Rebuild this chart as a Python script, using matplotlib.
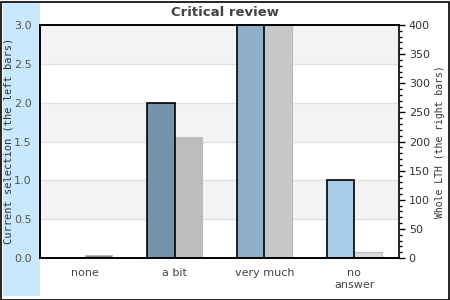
"""Critical review: current selection vs whole LTH, twin-axis bar chart."""

import matplotlib

matplotlib.use("Agg")
import matplotlib.pyplot as plt
import numpy as np
from matplotlib.patches import Rectangle
from matplotlib.ticker import MultipleLocator

categories = ["none", "a bit", "very much", "no\nanswer"]
current_selection = [0.0, 2.0, 3.0, 1.0]
whole_lth = [6, 208, 400, 10]

left_colors = ["#6f8faa", "#7393ae", "#8fb0cb", "#a9cce8"]
right_colors = ["#888888", "#bdbdbd", "#c8c8c8", "#d9d9d9"]
right_edges = ["#bbbbbb", "#bdbdbd", "#bbbbbb", "#bdbdbd"]

LEFT_MAX, RIGHT_MAX = 3.0, 400

W, H = 450, 300
fig = plt.figure(figsize=(W / 100, H / 100), dpi=100, facecolor="white")

# light blue strip behind the left axis, and the outer frame
fig.patches.append(Rectangle((3 / W, 4 / H), 37 / W, 293 / H, transform=fig.transFigure,
                             facecolor="#c8e8fc", edgecolor="none", zorder=-5))
fig.patches.append(Rectangle((0.5 / W, 0.5 / H), (W - 2) / W, (H - 2) / H,
                             transform=fig.transFigure, facecolor="none",
                             edgecolor="black", linewidth=1.2, zorder=5))

rect = [40 / W, 42 / H, 359 / W, 233 / H]
x = np.arange(len(categories))
bw = 0.307
xlim = (-0.5, len(categories) - 0.5)

# back axes: right scale, bands, grid, right bars
ax2 = fig.add_axes(rect)
ax2.set_facecolor("white")
ax2.set_xlim(*xlim)
ax2.set_ylim(0, RIGHT_MAX)
scale = RIGHT_MAX / LEFT_MAX
for lo in (0.5, 1.5, 2.5):
    ax2.axhspan(lo * scale, (lo + 0.5) * scale, color="#f3f3f3", zorder=0, linewidth=0)
for g in np.arange(0.5, LEFT_MAX, 0.5):
    ax2.axhline(g * scale, color="#e0e0e0", linewidth=1, zorder=0.5)
for i, v in enumerate(whole_lth):
    ax2.bar(x[i] + bw / 2, v, bw, color=right_colors[i], edgecolor=right_edges[i],
            linewidth=0.8, zorder=2)
ax2.yaxis.tick_right()
ax2.yaxis.set_label_position("right")
ax2.yaxis.set_major_locator(MultipleLocator(50))
ax2.yaxis.set_minor_locator(MultipleLocator(10))
ax2.tick_params(axis="y", which="major", length=4, width=1, pad=3, labelsize=8,
                labelcolor="#333333")
ax2.tick_params(axis="y", which="minor", length=2.5, width=1)
ax2.set_xticks([])
ax2.set_ylabel("Whole LTH (the right bars)", family="DejaVu Sans Mono", fontsize=7,
               color="#333333", labelpad=4)
for s in ax2.spines.values():
    s.set_color("black")
    s.set_linewidth(1.2)

# front axes: left scale and left bars
ax = fig.add_axes(rect)
ax.patch.set_visible(False)
ax.set_xlim(*xlim)
ax.set_ylim(0, LEFT_MAX)
for i, v in enumerate(current_selection):
    if v > 0:
        ax.bar(x[i] - bw / 2, v, bw, color=left_colors[i], edgecolor="black",
               linewidth=1.2, zorder=2)
ax.set_xticks(x)
ax.set_xticklabels(categories, fontsize=8, color="#444444", linespacing=1.25)
ax.tick_params(axis="x", length=0, pad=7)
ax.set_yticks(np.arange(0, LEFT_MAX + 0.01, 0.5))
ax.set_yticklabels([f"{t:.1f}" for t in np.arange(0, LEFT_MAX + 0.01, 0.5)])
ax.tick_params(axis="y", length=0, pad=6, labelsize=8, labelcolor="#555555")
ax.spines["right"].set_visible(False)
for s in ("left", "top", "bottom"):
    ax.spines[s].set_color("black")
    ax.spines[s].set_linewidth(1.2)

fig.text(9 / W, 1 - 141 / H, "Current selection (the left bars)", rotation=90,
         ha="center", va="center", family="DejaVu Sans Mono", fontsize=7.5,
         color="#333333")
fig.text(0.5, 1 - 12 / H, "Critical review", ha="center", va="center", fontsize=9.5,
         weight="bold", color="#444444")

fig.savefig("out.png", dpi=100, facecolor=fig.get_facecolor())
